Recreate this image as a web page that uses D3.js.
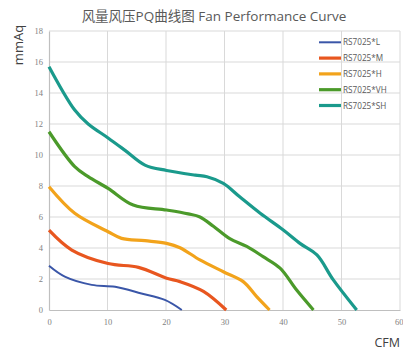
<!DOCTYPE html>
<html><head><meta charset="utf-8">
<script src="https://cdn.jsdelivr.net/npm/d3@7"></script>
<style>body{margin:0;background:#fff}svg{display:block}</style>
</head><body><svg id="c" width="403" height="351"></svg>
<script>
const seriesNames = ["RS7025*L","RS7025*M","RS7025*H","RS7025*VH","RS7025*SH"];
const seriesColors = ["#3a56a8","#e8561f","#f2a31b","#4b9a2a","#1a9a8c"];
const L_x = [0, 2.7, 7.3, 11.3, 15.8, 19.8, 22.7];
const L_y = [2.85, 2.15, 1.62, 1.5, 1.07, 0.65, 0];
const M_x = [0, 3.9, 10.1, 15.3, 20.1, 22.4, 26.4, 30.3];
const M_y = [5.15, 3.87, 3.0, 2.75, 2.05, 1.83, 1.2, 0];
const H_x = [0, 4.4, 10.1, 12.4, 16.4, 20.1, 22.4, 25.8, 29.8, 33.2, 35.5, 37.7];
const H_y = [7.95, 6.24, 5.05, 4.62, 4.47, 4.3, 4.02, 3.23, 2.47, 1.83, 0.86, 0];
const VH_x = [0, 4.4, 6.7, 10.1, 14.4, 20.1, 23.8, 25.8, 28.1, 30.9, 33.8, 36.6, 39.5, 42.3, 45.2];
const VH_y = [11.5, 9.25, 8.6, 7.85, 6.77, 6.45, 6.2, 6.0, 5.4, 4.6, 4.1, 3.44, 2.7, 1.3, 0];
const SH_x = [0, 4.4, 6.7, 10.1, 13, 16.4, 20.1, 25, 27, 29.8, 32.6, 36.1, 40.05, 42.9, 45.8, 48.6, 52.6];
const SH_y = [15.7, 12.9, 12.0, 11.1, 10.3, 9.35, 9.0, 8.7, 8.6, 8.17, 7.3, 6.24, 5.16, 4.3, 3.55, 1.94, 0];
const xTicks = [0,10,20,30,40,50,60];
const yTicks = [0,2,4,6,8,10,12,14,16,18];

const seriesX = [L_x, M_x, H_x, VH_x, SH_x];
const seriesY = [L_y, M_y, H_y, VH_y, SH_y];

const svg = d3.select("#c");
const x = d3.scaleLinear().domain([0,60]).range([49,400]);
const y = d3.scaleLinear().domain([0,18]).range([310,31]);

svg.append("g").selectAll("line").data(xTicks.slice(1)).join("line")
  .attr("x1",d=>x(d)).attr("x2",d=>x(d)).attr("y1",y(0)).attr("y2",y(18))
  .attr("stroke","#d9d9d9").attr("stroke-width",1);
svg.append("g").selectAll("line").data(yTicks.slice(1)).join("line")
  .attr("x1",x(0)).attr("x2",x(60)).attr("y1",d=>y(d)).attr("y2",d=>y(d))
  .attr("stroke","#d9d9d9").attr("stroke-width",1);

const xAxis = svg.append("g").attr("transform",`translate(0,${y(0)})`)
  .call(d3.axisBottom(x).tickValues(xTicks).tickSize(0).tickPadding(9));
const yAxis = svg.append("g").attr("transform",`translate(${x(0)},0)`)
  .call(d3.axisLeft(y).tickValues(yTicks).tickSize(0).tickPadding(6));
[xAxis,yAxis].forEach(a=>{
  a.select(".domain").attr("stroke","#bfbfbf").attr("stroke-width",1.2);
  a.selectAll("text").attr("fill","#7f7f7f").attr("font-size",8.5)
   .attr("font-family","'Liberation Serif', serif");
});
xAxis.selectAll(".tick").filter(d=>d===60).select("text").attr("text-anchor","end").attr("dx",3);

const line = d3.line().x(d=>x(d[0])).y(d=>y(d[1])).curve(d3.curveCatmullRom.alpha(0.5));
seriesNames.forEach((n,i)=>{
  const pts = seriesX[i].map((v,j)=>[v, seriesY[i][j]]);
  svg.append("path").datum(pts).attr("d",line).attr("fill","none")
    .attr("stroke",seriesColors[i]).attr("stroke-width", i===0?2:3.2);
});

const lg = svg.append("g");
seriesNames.forEach((n,i)=>{
  const yy = 42.3 + i*15.8;
  lg.append("line").attr("x1",319).attr("x2",341).attr("y1",yy).attr("y2",yy)
    .attr("stroke",seriesColors[i]).attr("stroke-width", i===0?2:3.2);
  lg.append("text").attr("x",343).attr("y",yy+3).text(n)
    .attr("font-family","'Open Sans', sans-serif").attr("font-size",8.2)
    .attr("fill","#595959");
});

svg.append("text").attr("x",214).attr("y",21).attr("text-anchor","middle")
  .attr("font-family","'Open Sans','Noto Sans CJK SC', sans-serif").attr("font-size",13.5)
  .attr("fill","#595959").text("风量风压PQ曲线图 Fan Performance Curve");

svg.append("text").attr("transform","translate(23,45) rotate(-90)").attr("text-anchor","middle")
  .attr("font-family","'Open Sans', sans-serif").attr("font-size",13)
  .attr("fill","#404040").text("mmAq");
svg.append("text").attr("x",400).attr("y",347).attr("text-anchor","end")
  .attr("font-family","'Open Sans', sans-serif").attr("font-size",12.5)
  .attr("fill","#404040").text("CFM");
</script></body></html>
